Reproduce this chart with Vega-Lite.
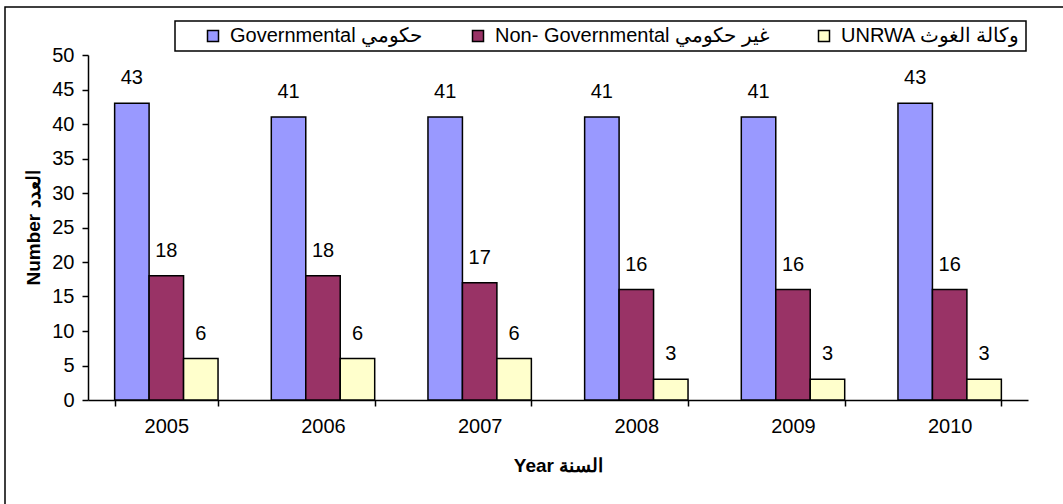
{
  "$schema": "https://vega.github.io/schema/vega-lite/v6.json",
  "width": 1068,
  "height": 508,
  "autosize": {"type": "none"},
  "padding": {"left": 5, "top": 7, "right": 0, "bottom": 0},
  "background": "white",
  "config": {
    "view": {"stroke": "black", "strokeWidth": 1.5},
    "font": "Liberation Sans",
    "legend": {"strokeWidth": 1.5},
    "axis": {
      "domainColor": "black",
      "domainWidth": 1.5,
      "tickColor": "black",
      "tickWidth": 1.5,
      "tickSize": 6,
      "labelFont": "Liberation Sans",
      "labelFontSize": 20,
      "labelColor": "black",
      "titleFont": "Liberation Sans",
      "titleFontSize": 19,
      "titleFontWeight": "bold",
      "titleColor": "black",
      "grid": false
    }
  },
  "data": {
    "values": [
      {"year": "2005", "series": "Governmental حكومي", "value": 43},
      {"year": "2005", "series": "Non- Governmental غير حكومي", "value": 18},
      {"year": "2005", "series": "UNRWA وكالة الغوث", "value": 6},
      {"year": "2006", "series": "Governmental حكومي", "value": 41},
      {"year": "2006", "series": "Non- Governmental غير حكومي", "value": 18},
      {"year": "2006", "series": "UNRWA وكالة الغوث", "value": 6},
      {"year": "2007", "series": "Governmental حكومي", "value": 41},
      {"year": "2007", "series": "Non- Governmental غير حكومي", "value": 17},
      {"year": "2007", "series": "UNRWA وكالة الغوث", "value": 6},
      {"year": "2008", "series": "Governmental حكومي", "value": 41},
      {"year": "2008", "series": "Non- Governmental غير حكومي", "value": 16},
      {"year": "2008", "series": "UNRWA وكالة الغوث", "value": 3},
      {"year": "2009", "series": "Governmental حكومي", "value": 41},
      {"year": "2009", "series": "Non- Governmental غير حكومي", "value": 16},
      {"year": "2009", "series": "UNRWA وكالة الغوث", "value": 3},
      {"year": "2010", "series": "Governmental حكومي", "value": 43},
      {"year": "2010", "series": "Non- Governmental غير حكومي", "value": 16},
      {"year": "2010", "series": "UNRWA وكالة الغوث", "value": 3}
    ]
  },
  "encoding": {
    "x": {
      "field": "year",
      "type": "nominal",
      "scale": {"range": [83, 1023], "paddingInner": 0.34, "paddingOuter": 0.17},
      "axis": {
        "orient": "bottom",
        "offset": -115,
        "labelAngle": 0,
        "tickBand": "extent",
        "labelPadding": 10,
        "title": "Year السنة",
        "titlePadding": 20
      }
    },
    "xOffset": {
      "field": "series",
      "type": "nominal",
      "sort": ["Governmental حكومي", "Non- Governmental غير حكومي", "UNRWA وكالة الغوث"],
      "scale": {"paddingInner": 0, "paddingOuter": 0}
    },
    "y": {
      "field": "value",
      "type": "quantitative",
      "scale": {"domain": [0, 50], "range": [393, 48], "nice": false},
      "axis": {
        "orient": "left",
        "offset": -83,
        "values": [0, 5, 10, 15, 20, 25, 30, 35, 40, 45, 50],
        "labelPadding": 8,
        "title": "Number العدد",
        "titlePadding": 8
      }
    }
  },
  "layer": [
    {
      "mark": {"type": "bar", "stroke": "black", "strokeWidth": 1.5},
      "encoding": {
        "color": {
          "field": "series",
          "type": "nominal",
          "sort": ["Governmental حكومي", "Non- Governmental غير حكومي", "UNRWA وكالة الغوث"],
          "scale": {
            "domain": ["Governmental حكومي", "Non- Governmental غير حكومي", "UNRWA وكالة الغوث"],
            "range": ["#9999FF", "#993366", "#FFFFCC"]
          },
          "legend": {
            "orient": "none",
            "direction": "horizontal",
            "columns": 3,
            "legendX": 170,
            "legendY": 14,
            "title": "\u00a0",
            "titleOrient": "left",
            "titlePadding": 23,
            "titleFontSize": 20,
            "padding": 5,
            "strokeColor": "black",
            "fillColor": "white",
            "symbolType": "square",
            "symbolSize": 121,
            "symbolStrokeColor": "black",
            "symbolStrokeWidth": 1.5,
            "symbolOpacity": 1,
            "labelFont": "Liberation Sans",
            "labelFontSize": 20,
            "labelColor": "black",
            "labelOffset": 7,
            "labelLimit": 400,
            "columnPadding": 45
          }
        }
      }
    },
    {
      "mark": {"type": "text", "baseline": "middle", "align": "center", "dy": -25, "fontSize": 20, "font": "Liberation Sans", "color": "black"},
      "encoding": {
        "text": {"field": "value", "type": "quantitative"}
      }
    }
  ]
}
